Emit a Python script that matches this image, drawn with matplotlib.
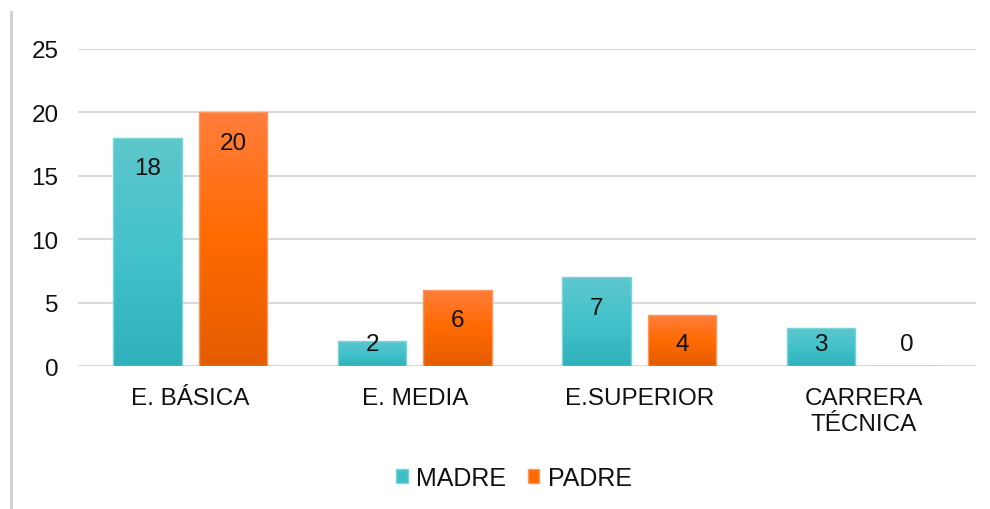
import numpy as np
import matplotlib
matplotlib.use("Agg")
import matplotlib.pyplot as plt
from matplotlib.colors import LinearSegmentedColormap
from matplotlib.patches import Patch
from matplotlib.lines import Line2D

categories = ["E. BÁSICA", "E. MEDIA", "E.SUPERIOR", "CARRERA\nTÉCNICA"]
madre = [18, 2, 7, 3]
padre = [20, 6, 4, 0]
series_names = ["MADRE", "PADRE"]
yticks = [0, 5, 10, 15, 20, 25]

plt.rcParams['font.family'] = ['Liberation Sans', 'DejaVu Sans']
FS = 17.5

fig = plt.figure(figsize=(9.9, 5.1), dpi=100)
ax = fig.add_axes([78/990, (510-367)/510, (976-78)/990, (367-50)/510])

teal_cmap = LinearSegmentedColormap.from_list("teal", ["#2FB1BB", "#43C2CA", "#5EC7CC"])
orange_cmap = LinearSegmentedColormap.from_list("orange", ["#E45D00", "#FF6A00", "#FF7E3C"])

x = np.arange(len(categories))
w = 0.305
off = 0.19
grad = np.linspace(0, 1, 256).reshape(-1, 1)

def draw(vals, dx, cmap, edge):
    bars = ax.bar(x + dx, vals, width=w, color="none", edgecolor=edge, linewidth=1.0, zorder=3)
    for b, v in zip(bars, vals):
        if v <= 0:
            continue
        x0, y0 = b.get_x(), b.get_y()
        im = ax.imshow(grad, extent=[x0, x0 + b.get_width(), y0, y0 + b.get_height()],
                       origin="lower", cmap=cmap, aspect="auto", zorder=2, interpolation="bilinear")
        im.set_clip_path(b)
    for xi, v in zip(x + dx, vals):
        ly = max(v - 2.4, 1.75)
        ax.text(xi, ly, str(v), ha="center", va="center", fontsize=FS, color="#111111", zorder=4)

draw(madre, -off, teal_cmap, "#7AD3D7")
draw(padre, off, orange_cmap, "#FF9660")

ax.set_xlim(-0.5, len(categories) - 0.5)
ax.set_ylim(0, 25)
ax.set_yticks(yticks)
ax.set_xticks(x)
ax.set_xticklabels(categories, fontsize=FS, color="#111111", linespacing=1.25)
ax.tick_params(axis="y", length=0, pad=14, labelsize=FS, labelcolor="#111111")
ax.tick_params(axis="x", length=0, pad=15)
ax.grid(axis="y", color="#D9D9D9", linewidth=1.5, zorder=0)
ax.set_axisbelow(True)
for s in ax.spines.values():
    s.set_visible(False)

handles = [Patch(facecolor="#40BEC6", edgecolor="#7AD3D7"), Patch(facecolor="#FF6A00", edgecolor="#FF9660")]
fig.legend(handles, series_names, loc="center", bbox_to_anchor=(514/990, 1 - 479/510), ncol=2,
           frameon=False, fontsize=18, handlelength=0.45, handleheight=0.45,
           handletextpad=0.35, columnspacing=0.85, labelcolor="#111111")

fig.add_artist(Line2D([11/990, 11/990], [0, 1 - 13/510], transform=fig.transFigure,
                      color="#D0D0D0", linewidth=2))

fig.savefig("out.png", dpi=100, facecolor="white")
